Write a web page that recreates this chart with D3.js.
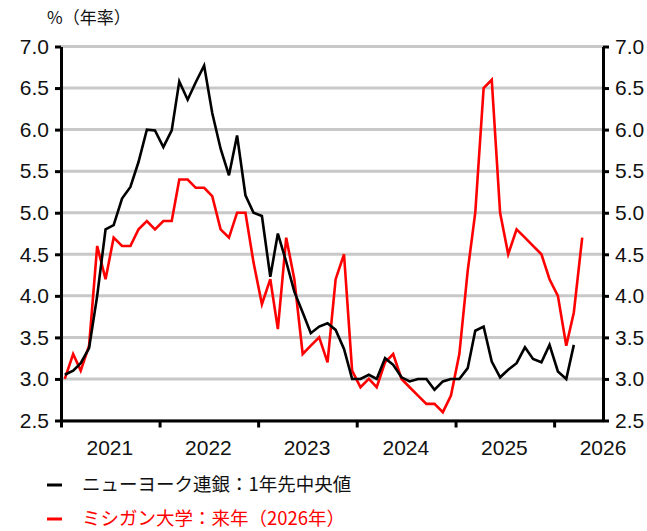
<!DOCTYPE html>
<html>
<head>
<meta charset="utf-8">
<script src="https://cdn.jsdelivr.net/npm/d3@7"></script>
<style>
	body { margin: 0; background: #fff; }
	.num { font-family: "Liberation Sans", Arial, sans-serif; font-size: 21px; fill: #111; }
	.jp { font-family: "Noto Sans CJK JP", sans-serif; }
</style>
</head>
<body>
<div class="chart"></div>
<script>
// monthly, Jan 2021 onwards
var startMonth = "2021-01";
var nyFed = [
	3.05, 3.10, 3.19, 3.37, 4.00, 4.80, 4.85, 5.17, 5.31, 5.61, 6.00, 5.99,
	5.79, 5.99, 6.58, 6.36, 6.57, 6.77, 6.20, 5.77, 5.45, 5.93, 5.21, 5.00,
	4.96, 4.23, 4.75, 4.41, 4.05, 3.80, 3.55, 3.63, 3.67, 3.59, 3.36, 3.00,
	3.00, 3.05, 3.00, 3.25, 3.17, 3.02, 2.97, 3.00, 3.00, 2.87, 2.97, 3.00,
	3.00, 3.13, 3.58, 3.63, 3.21, 3.02, 3.11, 3.19, 3.38, 3.24, 3.20, 3.41,
	3.09, 3.00, 3.41
];
var michigan = [
	3.0, 3.3, 3.1, 3.4, 4.6, 4.2, 4.7, 4.6, 4.6, 4.8, 4.9, 4.8,
	4.9, 4.9, 5.4, 5.4, 5.3, 5.3, 5.2, 4.8, 4.7, 5.0, 5.0, 4.4,
	3.9, 4.2, 3.6, 4.7, 4.2, 3.3, 3.4, 3.5, 3.2, 4.2, 4.5, 3.1,
	2.9, 3.0, 2.9, 3.2, 3.3, 3.0, 2.9, 2.8, 2.7, 2.7, 2.6, 2.8,
	3.3, 4.3, 5.0, 6.5, 6.6, 5.0, 4.5, 4.8, 4.7, 4.6, 4.5, 4.2,
	4.0, 3.4, 3.8, 4.7
];
var yTicks = [2.5, 3.0, 3.5, 4.0, 4.5, 5.0, 5.5, 6.0, 6.5, 7.0];
var years = [2021, 2022, 2023, 2024, 2025, 2026];
var seriesNames = ["ニューヨーク連銀：1年先中央値", "ミシガン大学：来年（2026年）"];
var seriesColors = ["#000000", "#ff0000"];

var W = 647, H = 531;
var plot = {left: 61, right: 603, top: 46.5, bottom: 420.5};

var svg = d3.select(".chart").append("svg")
	.attr("width", W)
	.attr("height", H);

var x = d3.scaleTime()
	.domain([new Date(2021, 0, 1), new Date(2026, 6, 1)])
	.range([plot.left, plot.right]);

var y = d3.scaleLinear()
	.domain([2.5, 7.0])
	.range([plot.bottom, plot.top]);

var parseMonth = d3.timeParse("%Y-%m");
var start = parseMonth(startMonth);
function toPoints(values) {
	return values.map(function (v, i) {
		var d = d3.timeMonth.offset(start, i);
		return {date: new Date(d.getFullYear(), d.getMonth(), 15), value: v};
	});
}

// gridlines
svg.append("g").selectAll("line")
	.data(yTicks)
	.enter().append("line")
	.attr("x1", plot.left).attr("x2", plot.right)
	.attr("y1", function (d) { return y(d); })
	.attr("y2", function (d) { return y(d); })
	.attr("stroke", "#c8c8c8")
	.attr("stroke-width", 3);

var line = d3.line()
	.x(function (d) { return x(d.date); })
	.y(function (d) { return y(d.value); });

svg.append("path")
	.datum(toPoints(michigan))
	.attr("fill", "none")
	.attr("stroke", seriesColors[1])
	.attr("stroke-width", 2.6)
	.attr("d", line);

svg.append("path")
	.datum(toPoints(nyFed))
	.attr("fill", "none")
	.attr("stroke", seriesColors[0])
	.attr("stroke-width", 2.6)
	.attr("d", line);

// axes
var yLeft = d3.axisLeft(y).tickValues(yTicks).tickFormat(d3.format(".1f")).tickSize(6).tickPadding(6);
var yRight = d3.axisRight(y).tickValues(yTicks).tickFormat(d3.format(".1f")).tickSize(6).tickPadding(6);

function styleAxis(g) {
	g.select(".domain").attr("stroke", "#000").attr("stroke-width", 3);
	g.selectAll(".tick line").attr("stroke", "#000").attr("stroke-width", 3);
	g.selectAll(".tick text").attr("class", "num").attr("fill", null);
	g.attr("font-family", null).attr("font-size", null);
}

svg.append("g")
	.attr("transform", "translate(" + plot.left + ",0)")
	.call(yLeft.tickSizeOuter(0))
	.call(styleAxis);

svg.append("g")
	.attr("transform", "translate(" + plot.right + ",0)")
	.call(yRight.tickSizeOuter(0))
	.call(styleAxis);

var xAxis = d3.axisBottom(x)
	.tickValues(years.map(function (yr) { return new Date(yr, 0, 1); }))
	.tickFormat("")
	.tickSize(7)
	.tickSizeOuter(0);

svg.append("g")
	.attr("transform", "translate(0," + plot.bottom + ")")
	.call(xAxis)
	.call(styleAxis);

svg.append("g").selectAll("text")
	.data(years)
	.enter().append("text")
	.attr("class", "num")
	.attr("text-anchor", "middle")
	.attr("x", function (d) { return x(new Date(d, 6, 1)); })
	.attr("y", 455)
	.text(function (d) { return d; });

// unit label
svg.append("text")
	.attr("class", "jp")
	.attr("x", 47)
	.attr("y", 24)
	.attr("font-size", 17)
	.attr("fill", "#111")
	.text("%（年率）");

// legend
var legend = svg.append("g").selectAll("g")
	.data(seriesNames)
	.enter().append("g")
	.attr("transform", function (d, i) { return "translate(0," + (485 + i * 34) + ")"; });

legend.append("line")
	.attr("x1", 47).attr("x2", 62)
	.attr("stroke", function (d, i) { return seriesColors[i]; })
	.attr("stroke-width", 3);

legend.append("text")
	.attr("class", "jp")
	.attr("x", 82)
	.attr("dy", "0.35em")
	.attr("font-size", 18.5)
	.attr("fill", function (d, i) { return i === 0 ? "#111" : seriesColors[i]; })
	.text(function (d) { return d; });
</script>
</body>
</html>
